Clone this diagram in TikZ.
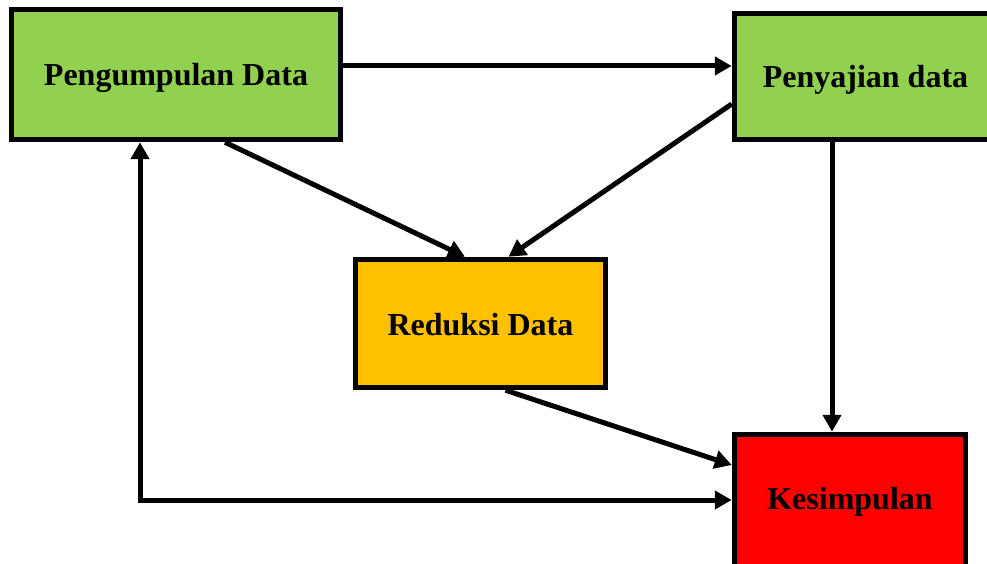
\documentclass[tikz,border=0pt]{standalone}
\usepackage{fontspec}
\setmainfont{Liberation Serif}
\usetikzlibrary{arrows.meta}
\definecolor{boxgreen}{HTML}{92D050}
\definecolor{boxorange}{HTML}{FFC000}
\definecolor{boxred}{HTML}{FF0000}
\begin{document}
\begin{tikzpicture}[x=1pt,y=-1pt,
  stagebox/.style={draw=black,line width=5.5pt,inner sep=0pt,
    text height=30pt,text depth=7pt,
    font=\fontsize{32}{36}\selectfont\bfseries,text=black},
  arr/.style={line width=5pt,-{Triangle[length=17pt,width=18pt]}},
  arrboth/.style={line width=5pt,{Triangle[length=17pt,width=18pt]}-{Triangle[length=17pt,width=18pt]}}]
\clip (0,0) rectangle (987,564);
\node[stagebox,fill=boxgreen,minimum width=329pt,minimum height=130pt] (p) at (176,74.5) {Pengumpulan Data};
\node[stagebox,fill=boxgreen,minimum width=262pt,minimum height=126pt] (s) at (865.5,76.5) {Penyajian data};
\node[stagebox,fill=boxorange,minimum width=250pt,minimum height=128pt] (r) at (480.5,323.5) {Reduksi Data};
\node[stagebox,fill=boxred,minimum width=231pt,minimum height=140pt,text height=16pt] (k) at (850,504.5) {Kesimpulan};
\draw[arr] ([yshift=8.5pt]p.east) -- ([yshift=10.5pt]s.west);
\draw[arr] ([xshift=49pt]p.south) -- ([xshift=-15.5pt]r.north);
\draw[arr] ([yshift=-27.5pt]s.west) -- ([xshift=28pt]r.north);
\draw[arr] ([xshift=-33.5pt]s.south) -- ([xshift=-33.5pt]s.south |- k.north);
\draw[arr] ([xshift=25pt]r.south) -- ([yshift=39.5pt]k.west);
\draw[arrboth] ([yshift=4.5pt]k.west) -| ([xshift=-36pt]p.south);
\end{tikzpicture}
\end{document}
